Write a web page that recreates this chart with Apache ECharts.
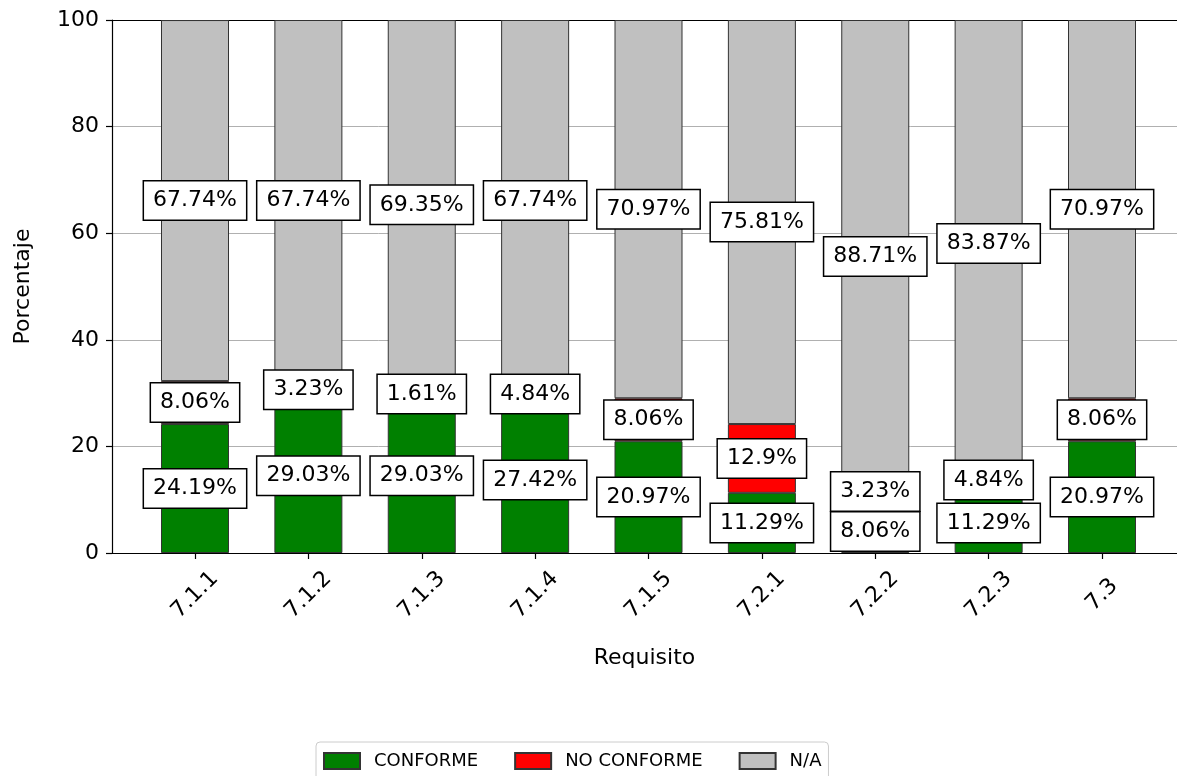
<!DOCTYPE html>
<html>
<head>
<meta charset="utf-8">
<script src="https://cdn.jsdelivr.net/npm/echarts@6/dist/echarts.min.js"></script>
<style>
html,body{margin:0;padding:0;background:#fff;}
#chart{width:1177px;height:776px;}
</style>
</head>
<body>
<div id="chart"></div>
<script>
const categories = ['7.1.1', '7.1.2', '7.1.3', '7.1.4', '7.1.5', '7.2.1', '7.2.2', '7.2.3', '7.3'];
const conforme = [24.19, 29.03, 29.03, 27.42, 20.97, 11.29, 8.06, 11.29, 20.97];
const noConforme = [8.06, 3.23, 1.61, 4.84, 8.06, 12.9, 3.23, 4.84, 8.06];
const na = [67.74, 67.74, 69.35, 67.74, 70.97, 75.81, 88.71, 83.87, 70.97];
const seriesNames = ['CONFORME', 'NO CONFORME', 'N/A'];
const seriesColors = ['#008000', '#ff0000', '#c0c0c0'];

const FONT = 'DejaVu Sans';
const labelStyle = {
  show: true,
  position: 'inside',
  fontFamily: FONT,
  fontSize: 22,
  lineHeight: 24,
  color: '#000',
  backgroundColor: '#fff',
  borderColor: '#000',
  borderWidth: 1.5,
  padding: [7, 9, 7, 9],
  formatter: p => p.value + '%'
};

function toData(arr, offsets) {
  return arr.map((v, i) => {
    const item = { value: v };
    if (offsets && offsets[i]) item.label = { offset: offsets[i] };
    return item;
  });
}

const series = [conforme, noConforme, na].map((arr, k) => ({
  name: seriesNames[k],
  type: 'bar',
  stack: 'total',
  xAxisIndex: 1,
  yAxisIndex: 1,
  barWidth: 68,
  clip: false,
  itemStyle: { color: seriesColors[k], borderColor: '#333', borderWidth: 1 },
  label: labelStyle,
  data: toData(arr, k === 1 ? { 6: [0, -10] } : null)
}));

const chart = echarts.init(document.getElementById('chart'), null, { renderer: 'canvas' });
chart.setOption({
  animation: false,
  backgroundColor: '#fff',
  grid: [
    { left: 112, top: 20, width: 1073, height: 533 },
    { left: 195, top: 20, width: 907, height: 533 }
  ],
  legend: {
    left: 316, top: 742,
    padding: [10, 7, 10, 7],
    borderColor: '#cccccc', borderWidth: 1, borderRadius: 4,
    itemWidth: 36, itemHeight: 16, itemGap: 36,
    icon: 'rect',
    textStyle: { fontFamily: FONT, fontSize: 18, color: '#000', padding: [0, 0, 0, 9] },
    data: seriesNames
  },
  xAxis: [
    {
      gridIndex: 0, type: 'value', min: 0, max: 1,
      name: 'Requisito',
      nameLocation: 'middle',
      nameGap: 94,
      nameTextStyle: { fontFamily: FONT, fontSize: 22, color: '#000' },
      axisLine: { show: true, lineStyle: { color: '#000', width: 1.2 } },
      axisTick: { show: false }, axisLabel: { show: false }, splitLine: { show: false }
    },
    {
      gridIndex: 1, type: 'category', data: categories, boundaryGap: false,
      axisLine: { show: false },
      axisTick: { show: true, length: 6, alignWithLabel: true, lineStyle: { color: '#000', width: 1.2 } },
      axisLabel: {
        interval: 0,
        rotate: 45,
        align: 'center',
        verticalAlign: 'middle',
        margin: 42,
        fontFamily: FONT, fontSize: 22, color: '#000'
      },
      splitLine: { show: false }
    },
    {
      gridIndex: 0, type: 'value', min: 0, max: 1, position: 'top',
      axisLine: { show: true, lineStyle: { color: '#000', width: 1.2 } },
      axisTick: { show: false }, axisLabel: { show: false }, splitLine: { show: false }
    }
  ],
  yAxis: [
    {
      gridIndex: 0, type: 'value',
      min: 0, max: 100, interval: 20,
      name: 'Porcentaje',
      nameLocation: 'middle',
      nameGap: 78,
      nameTextStyle: { fontFamily: FONT, fontSize: 22, color: '#000' },
      axisLine: { show: true, lineStyle: { color: '#000', width: 1.2 } },
      axisTick: { show: true, length: 6, lineStyle: { color: '#000', width: 1.2 } },
      axisLabel: { margin: 13, fontFamily: FONT, fontSize: 22, color: '#000' },
      splitLine: { show: true, lineStyle: { color: '#b0b0b0', width: 1 } }
    },
    {
      gridIndex: 1, type: 'value', min: 0, max: 100, interval: 20,
      axisLine: { show: false }, axisTick: { show: false }, axisLabel: { show: false }, splitLine: { show: false }
    }
  ],
  series: series
});
</script>
</body>
</html>
